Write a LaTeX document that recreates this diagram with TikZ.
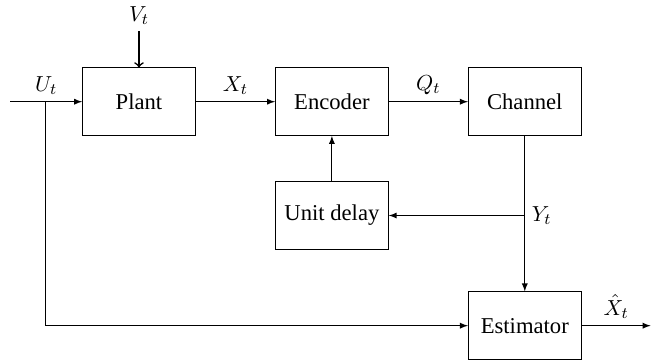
\documentclass[tikz,border=0pt]{standalone}
\usepackage{fontspec}
\setmainfont{Liberation Serif}
\usetikzlibrary{positioning}

\begin{document}
\begin{tikzpicture}[node distance={14mm}, >=latex, font=\fontsize{11.4}{13.7}\selectfont,
    block/.style = {draw, rectangle, minimum width=2cm, minimum height=1.2cm}]
    \useasboundingbox (0,0) rectangle (11.575,-6.37);
    \node[block] (plant) at (2.46,-1.80) {Plant};
    \node[block] (enc) [right=of plant] {Encoder};
    \node[block] (chan) [right=of enc] {Channel};
    \node[block] (delay) [below=8mm of enc] {Unit delay};
    \node[block] (est) [below=27.5mm of chan] {Estimator};
    \node (vt) at (2.46,-0.27) {$V_t$};
    \coordinate (in) at (0.18,-1.80);
    \coordinate (ubr) at (0.81,-1.80);
    \coordinate (ybr) at (chan |- delay);
    \path (est.east) ++(1.22,0) coordinate (out);
    \draw[thick, -to] (vt) -- (plant);
    \draw[->] (in) -- node[above] {$U_t$} (plant);
    \draw[->] (plant) -- node[above] {$X_t$} (enc);
    \draw[->] (enc) -- node[above] {$Q_t$} (chan);
    \draw[->] (chan) -- (est);
    \draw[->] (ybr) -- (delay);
    \node[right] at (ybr) {$Y_t$};
    \draw[->] (delay) -- (enc);
    \draw[->] (ubr) |- (est);
    \draw[->] (est) -- node[above] {$\hat{X}_t$} (out);
  \end{tikzpicture}
\end{document}
